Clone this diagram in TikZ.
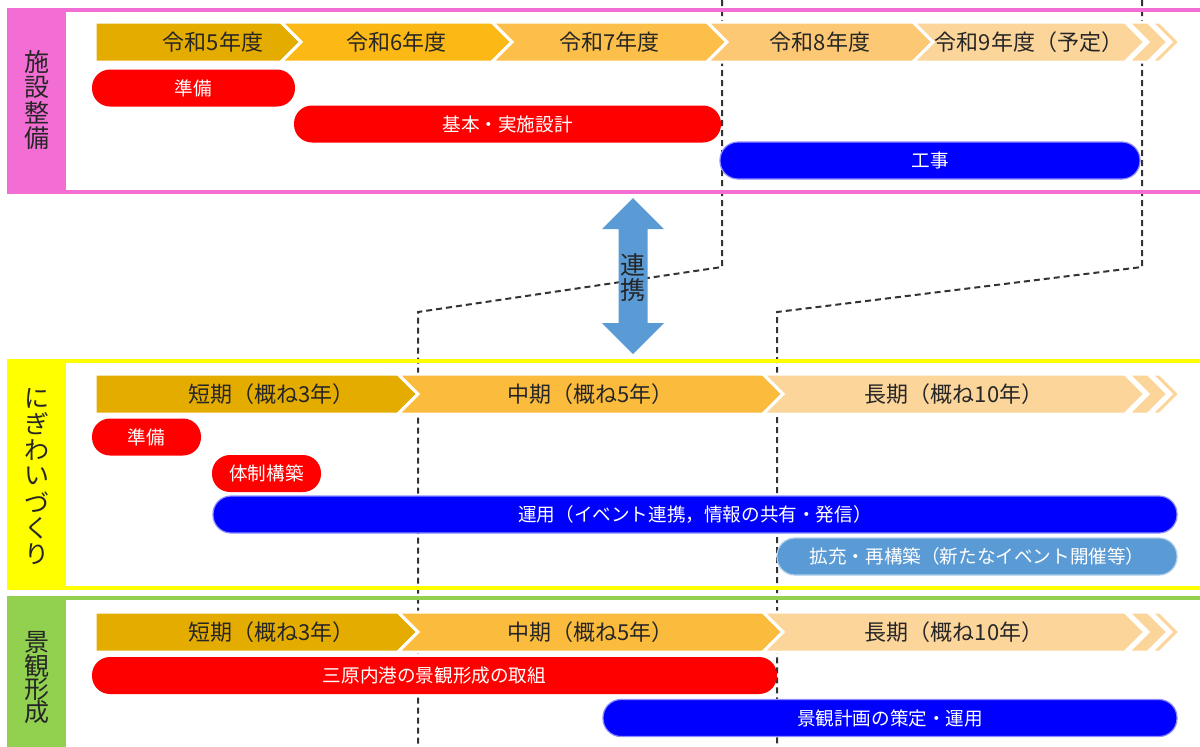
\documentclass[tikz,border=0pt]{standalone}
\usepackage{fontspec}
\setmainfont{Noto Sans CJK JP}

\definecolor{framepink}{RGB}{242,110,212}
\definecolor{frameyellow}{RGB}{255,255,0}
\definecolor{framegreen}{RGB}{146,208,80}
\definecolor{yearA}{RGB}{229,172,0}
\definecolor{yearB}{RGB}{252,185,22}
\definecolor{yearC}{RGB}{252,192,74}
\definecolor{yearD}{RGB}{252,200,116}
\definecolor{yearE}{RGB}{252,213,154}
\definecolor{termmid}{RGB}{251,187,60}
\definecolor{barred}{RGB}{255,0,0}
\definecolor{barblue}{RGB}{0,0,255}
\definecolor{linkblue}{RGB}{91,155,213}

\tikzset{
  chevfill/.style={draw=white, line width=1.5pt, line join=miter},
  chevtext/.style={text=black!85, font=\fontsize{11}{13}\selectfont},
  pilltext/.style={text=white, font=\fontsize{9.3}{11}\selectfont},
  sidechar/.style={text=black!85, inner sep=0pt, font=\fontsize{12.5}{13}\selectfont},
  phase/.style={black!80, line width=1pt, dash pattern=on 3pt off 2pt},
  frameline/.style={line width=2pt},
  redbar/.style={fill=barred},
  bluebar/.style={fill=barblue, draw=barblue!45!white, line width=0.6pt},
  skybar/.style={fill=linkblue, draw=linkblue!50!white, line width=0.6pt},
}

% name, x1, x2, y centre, notch, colour, text
\newcommand{\chevron}[7]{%
  \filldraw[chevfill, fill=#6] (#2,#4-20) -- (#3,#4-20) -- (#3+20,#4) -- (#3,#4+20) -- (#2,#4+20) -- (#2+#5,#4) -- cycle;
  \node[chevtext] (#1) at ({(#2+#3)/2+10+0.75*(20-#5)},#4) {#7};}

% name, x1, x2, y centre, style, text
\newcommand{\pill}[6]{%
  \path[#5, rounded corners=9pt] (#2,#4-18.5) rectangle (#3,#4+18.5);
  \node[pilltext] (#1) at ({(#2+#3)/2},#4) {#6};}

\begin{document}
\begin{tikzpicture}[x=0.5pt, y=-0.5pt]
  \useasboundingbox (0,0) rectangle (1200,746);
  \fill[white] (0,0) rectangle (1200,746);

  % phase boundaries
  \coordinate (midtop) at (722,0);
  \coordinate (midknee) at (722,267);
  \coordinate (midfoot) at (418,312);
  \coordinate (midend) at (418,746);
  \coordinate (endtop) at (1142,0);
  \coordinate (endknee) at (1142,267);
  \coordinate (endfoot) at (777,312);
  \coordinate (endend) at (777,746);
  \draw[phase] (midtop) -- (midknee) -- (midfoot) -- (midend);
  \draw[phase] (endtop) -- (endknee) -- (endfoot) -- (endend);

  % frames
  \fill[framepink] (9,10) rectangle (66,192);
  \draw[framepink, frameline] (9,10) rectangle (1215,192);
  \fill[frameyellow] (9,361) rectangle (66,588);
  \draw[frameyellow, frameline] (9,361) rectangle (1215,588);
  \fill[framegreen] (9,598) rectangle (66,760);
  \draw[framegreen, frameline] (9,598) rectangle (1215,760);

  \foreach \ch [count=\i] in {施,設,整,備}
    \node[sidechar] (facil\i) at (37.5, {62+(\i-1)*25.5}) {\ch};
  \foreach \ch [count=\i] in {に,ぎ,わ,い,づ,く,り}
    \node[sidechar] (lively\i) at (37.5, {398+(\i-1)*26}) {\ch};
  \foreach \ch [count=\i] in {景,観,形,成}
    \node[sidechar] (scape\i) at (37.5, {642+(\i-1)*23.5}) {\ch};

  % year scale
  \chevron{r5}{95}{281}{42}{0}{yearA}{令和5年度}
  \chevron{r6}{281}{492}{42}{20}{yearB}{令和6年度}
  \chevron{r7}{492}{707}{42}{20}{yearC}{令和7年度}
  \chevron{r8}{707}{913}{42}{20}{yearD}{令和8年度}
  \chevron{r9}{913}{1125}{42}{20}{yearE}{令和9年度（予定）}
  \foreach \rowy in {394,632}{
    \chevron{short\rowy}{95}{398}{\rowy}{0}{yearA}{短期（概ね3年）}
    \chevron{medium\rowy}{398}{763}{\rowy}{20}{termmid}{中期（概ね5年）}
    \chevron{long\rowy}{763}{1125}{\rowy}{20}{yearE}{長期（概ね10年）}
  }
  \foreach \rowy in {42,394,632}
    \foreach \xa/\xb in {1128/1148,1151/1160}
      \filldraw[chevfill, fill=yearE] (\xa,\rowy-20) -- (\xb,\rowy-20) -- (\xb+20,\rowy) -- (\xb,\rowy+20) -- (\xa,\rowy+20) -- (\xa+20,\rowy) -- cycle;

  % facilities
  \pill{fprep}{92}{295}{88}{redbar}{準備}
  \pill{fdesign}{294}{721}{124}{redbar}{基本・実施設計}
  \pill{fbuild}{720}{1140}{160.5}{bluebar}{工事}

  % liveliness
  \pill{lprep}{92}{201}{437}{redbar}{準備}
  \pill{lorg}{212}{321}{473.5}{redbar}{体制構築}
  \pill{lrun}{213}{1177}{514.5}{bluebar}{運用（イベント連携，情報の共有・発信）}
  \pill{lext}{777}{1177}{556.5}{skybar}{拡充・再構築（新たなイベント開催等）}

  % landscape
  \pill{sform}{92}{777}{675.5}{redbar}{三原内港の景観形成の取組}
  \pill{splan}{603}{1177}{718}{bluebar}{景観計画の策定・運用}

  % link arrow
  \fill[linkblue] (633,198) -- (664,229) -- (647.5,229) -- (647.5,323) -- (664,323) -- (633,354) -- (602,323) -- (618.5,323) -- (618.5,229) -- (602,229) -- cycle;
  \node[sidechar, font=\fontsize{12.5}{13}\selectfont] (link1) at (633,265) {連};
  \node[sidechar, font=\fontsize{12.5}{13}\selectfont] (link2) at (633,290) {携};
\end{tikzpicture}
\end{document}
